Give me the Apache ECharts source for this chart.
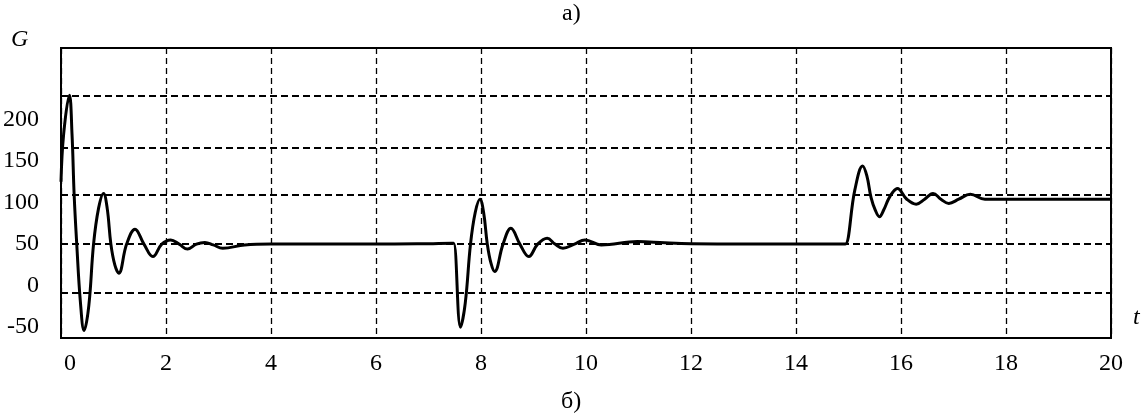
<!DOCTYPE html>
<html>
<head>
<meta charset="utf-8">
<script src="https://cdn.jsdelivr.net/npm/echarts@6/dist/echarts.min.js"></script>
<style>
html,body{margin:0;padding:0;background:#fff;}
#c{width:1142px;height:417px;}
</style>
</head>
<body>
<div id="c"></div>
<script>
// time t
var tValues = [
  0, 0.05, 0.16, 0.21, 0.25, 0.30, 0.37, 0.44, 0.53, 0.62, 0.715, 0.81, 0.88, 0.95, 1.025, 1.10, 1.25, 1.41, 1.58, 1.75, 1.92, 2.09, 2.25, 2.41, 2.58, 2.74, 2.90, 3.08, 3.5, 4, 5, 6, 7, 7.44,
  7.48, 7.61, 7.70, 7.80, 7.89, 7.98, 8.05, 8.12, 8.19, 8.26, 8.42, 8.57, 8.74, 8.91, 9.08, 9.26, 9.41, 9.56, 9.78, 9.98, 10.29, 10.98, 11.5, 12, 13, 14, 14.90,
  14.94, 15.12, 15.27, 15.35, 15.43, 15.51, 15.59, 15.67, 15.76, 15.85, 15.93, 16.11, 16.29, 16.45, 16.61, 16.76, 16.91, 17.10, 17.32, 17.60, 18, 19, 20
];
// G values
var gValues = [
  125, 182, 229, 182, 110, 50, -20, -54, -24, 50, 93, 111, 93, 50, 25, 15, 50, 68, 50, 35, 50, 55, 50, 44, 50, 52, 49, 45, 49, 50, 50, 50, 50.5, 51,
  51, -50, -21, 50, 88, 104, 88, 50, 27, 17, 50, 69, 50, 35, 50, 57, 50, 45, 50, 55, 49, 53, 51.5, 50.5, 50, 50, 50,
  50, 115, 144, 132, 106, 91, 83, 91, 104, 113, 117, 104, 98, 104, 111, 104, 99, 104, 110, 104, 104, 104, 104
];
var xTicks = [0, 2, 4, 6, 8, 10, 12, 14, 16, 18, 20];
var yTickLabels = [-50, 0, 50, 100, 150, 200];
var yGridValues = [228, 166, 109, 50, -8];

var data = tValues.map(function (t, i) { return [t, gValues[i]]; });
var serif = 'Liberation Serif';

var chart = echarts.init(document.getElementById('c'), null, {renderer: 'canvas'});
chart.setOption({
  animation: false,
  backgroundColor: '#fff',
  grid: {left: 59, right: 31, top: 48, bottom: 79, show: true, borderColor: '#000', borderWidth: 2, backgroundColor: 'transparent'},
  xAxis: {
    type: 'value', min: xTicks[0], max: xTicks[xTicks.length - 1], interval: 2,
    axisLine: {show: false}, axisTick: {show: false},
    axisLabel: {
      color: '#000', fontFamily: serif, fontSize: 24, lineHeight: 24, margin: 14,
      formatter: function (v) { return v === 0 ? '{z|0}' : String(v); },
      rich: {z: {fontFamily: serif, fontSize: 24, color: '#000', padding: [0, 0, 0, 18]}}
    },
    splitLine: {show: true, lineStyle: {color: '#000', width: 1.3, type: [6, 4]}}
  },
  yAxis: {
    type: 'value', min: -63, max: 286,
    axisLine: {show: false}, axisTick: {show: false},
    splitLine: {show: false},
    axisLabel: {color: '#000', fontFamily: serif, fontSize: 24, margin: 22, customValues: yTickLabels}
  },
  graphic: [
    {type: 'text', left: 11, top: 28, style: {text: 'G', font: 'italic 24px "Liberation Serif"', fill: '#000'}},
    {type: 'text', left: 1133, top: 306, style: {text: 't', font: 'italic 24px "Liberation Serif"', fill: '#000'}},
    {type: 'text', left: 562, top: 2, style: {text: 'а)', font: '24px "Liberation Serif"', fill: '#000'}},
    {type: 'text', left: 561, top: 390, style: {text: 'б)', font: '24px "Liberation Serif"', fill: '#000'}}
  ],
  series: [{
    type: 'line', data: data, showSymbol: false, smooth: 0.4,
    lineStyle: {color: '#000', width: 3}, z: 5,
    markLine: {
      silent: true, symbol: 'none', label: {show: false}, animation: false,
      lineStyle: {color: '#000', width: 1.8, type: [7, 4]},
      data: yGridValues.map(function (v) { return {yAxis: v}; })
    }
  }]
});
</script>
</body>
</html>
